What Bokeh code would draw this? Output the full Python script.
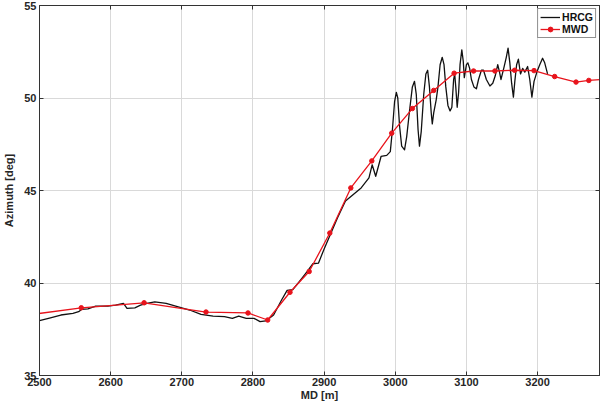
from bokeh.plotting import figure
from bokeh.models import Range1d, LinearAxis, FixedTicker, Legend, LegendItem, CustomJSTickFormatter
from bokeh.embed import file_html
from bokeh.resources import INLINE

# HRCG (black) trace
hrcg_md = [2500, 2514, 2530, 2547, 2555, 2559, 2568, 2579, 2596, 2607, 2618, 2623, 2634, 2642,
           2651, 2662, 2678, 2695, 2711, 2727, 2744, 2760, 2771, 2780, 2790.5, 2801.5, 2810, 2818,
           2829, 2840, 2848, 2856, 2864.5, 2875.5, 2884, 2892, 2900, 2908, 2919, 2930, 2941, 2952,
           2963, 2967.5, 2972.5, 2980,
           2988, 2993, 2996, 2999, 3001.5, 3003.5, 3006, 3009, 3013, 3016, 3020, 3024, 3027, 3029.5,
           3032, 3034, 3036.5, 3040, 3043, 3045.5, 3048, 3050.5, 3052, 3054, 3057.5, 3060, 3063, 3066,
           3068.5, 3071, 3074, 3077, 3079.5, 3082, 3083.5, 3085, 3087, 3089, 3091, 3093.5, 3095.5, 3097,
           3100, 3102, 3104.5, 3107, 3110.5, 3114, 3117, 3121, 3124, 3128, 3133, 3137, 3140.5, 3144,
           3146.5, 3148.5, 3150.5, 3153, 3156, 3158.5, 3161, 3163.5, 3166, 3168, 3170.5, 3173, 3176,
           3179, 3182, 3186, 3189, 3192, 3195, 3199, 3203, 3207, 3210, 3214]
hrcg_az = [37.96, 38.1, 38.27, 38.36, 38.45, 38.57, 38.6, 38.75, 38.75, 38.8, 38.9, 38.63, 38.66, 38.8,
           38.9, 38.98, 38.9, 38.71, 38.54, 38.3, 38.21, 38.18, 38.09, 38.21, 38.09, 38.09, 37.91, 37.95,
           38.27, 39.07, 39.6, 39.64, 40.05, 40.59, 41.04, 41.07, 41.84, 42.55, 43.54, 44.43, 44.79, 45.14,
           45.68, 46.39, 45.77, 46.84,
           46.9, 47.1, 48.3, 49.8, 50.3, 50.0, 48.5, 47.4, 47.2, 47.9, 49.3, 50.6, 50.9, 50.2,
           48.3, 47.4, 48.2, 50.2, 51.3, 51.5, 50.6, 49.2, 48.6, 49.2, 49.9, 50.6, 51.8, 52.2,
           51.8, 50.6, 49.6, 49.3, 49.5, 51.0, 51.3, 50.6, 49.5, 50.3, 51.8, 52.6, 52.0, 51.1,
           51.8, 51.9, 51.6, 51.0, 50.6, 50.5, 51.0, 51.5, 51.5, 51.0, 50.65, 50.8, 51.2, 51.8,
           51.4, 51.0, 51.3, 51.7, 52.2, 52.7, 51.9, 50.8, 50.05, 50.9, 51.8, 52.1, 51.3,
           51.6, 51.4, 51.7, 51.0, 50.05, 50.9, 51.4, 51.8, 52.15, 51.9, 51.3]

# MWD (red) survey stations
mwd_md = [2470, 2558.7, 2647, 2734, 2793, 2820.7, 2852, 2879, 2908, 2937.5, 2967, 2995, 3024, 3054,
          3082.7, 3110, 3140, 3167.7, 3195, 3224, 3254, 3272, 3291]
mwd_az = [38.2, 38.66, 38.93, 38.43, 38.38, 38.0, 39.5, 40.62, 42.7, 45.14, 46.6, 48.1, 49.43, 50.41,
          51.34, 51.46, 51.46, 51.5, 51.48, 51.16, 50.86, 50.95, 51.0]

x_ticks = [2500, 2600, 2700, 2800, 2900, 3000, 3100, 3200]
y_ticks = [35, 40, 45, 50, 55]

FONT = "Liberation Sans"
TXT = "#262626"

p = figure(width=600, height=403, output_backend="svg", toolbar_location=None,
           x_range=Range1d(2500, 3287), y_range=Range1d(35, 55),
           min_border_left=37, min_border_right=1, min_border_top=5, min_border_bottom=25)
p.background_fill_color = "white"
p.border_fill_color = "white"
p.outline_line_color = "#333333"
p.outline_line_width = 1

l1 = p.line(hrcg_md, hrcg_az, line_color="#111111", line_width=1.3, line_join="round")
l2 = p.line(mwd_md, mwd_az, line_color="#e8141c", line_width=1.3)
c2 = p.scatter(mwd_md, mwd_az, marker="circle", size=4.5, fill_color="#e8141c", line_color="#e8141c")

for ax in (p.xaxis[0], p.yaxis[0]):
    ax.major_tick_in = 4
    ax.major_tick_out = 0
    ax.minor_tick_in = 0
    ax.minor_tick_out = 0
    ax.axis_line_color = "#333333"
    ax.major_tick_line_color = "#333333"
    ax.major_label_text_font = FONT
    ax.major_label_text_font_style = "bold"
    ax.major_label_text_font_size = "11px"
    ax.major_label_text_color = TXT
    ax.axis_label_text_font = FONT
    ax.axis_label_text_font_style = "bold"
    ax.axis_label_text_font_size = "11px"
    ax.axis_label_text_color = TXT

p.xaxis.ticker = FixedTicker(ticks=x_ticks)
p.yaxis.ticker = FixedTicker(ticks=y_ticks)
p.xaxis.axis_label = "MD [m]"
p.yaxis.axis_label = "Azimuth [deg]"
p.xaxis.major_label_standoff = 2
p.xaxis.axis_label_standoff = 0
p.yaxis.major_label_standoff = 3
p.yaxis.axis_label_standoff = 6

# mirrored tick-only axes on top and right
for loc, tk in (("right", y_ticks), ("above", x_ticks)):
    ax = LinearAxis(ticker=FixedTicker(ticks=tk), formatter=CustomJSTickFormatter(code="return ''"),
                    major_tick_in=4, major_tick_out=0, minor_tick_in=0, minor_tick_out=0,
                    major_label_standoff=0, axis_line_color="#333333",
                    major_tick_line_color="#333333")
    p.add_layout(ax, loc)

p.xgrid.ticker = FixedTicker(ticks=x_ticks)
p.ygrid.ticker = FixedTicker(ticks=y_ticks)
p.grid.grid_line_color = "#d9d9d9"
p.grid.grid_line_width = 1

legend = Legend(items=[LegendItem(label="HRCG", renderers=[l1]),
                       LegendItem(label="MWD", renderers=[l2, c2])],
                location="top_right")
legend.label_text_font = FONT
legend.label_text_font_style = "bold"
legend.label_text_font_size = "10.5px"
legend.label_text_color = "#111111"
legend.border_line_color = "#222222"
legend.border_line_width = 1
legend.margin = 3
legend.padding = 2
legend.spacing = 0
legend.glyph_width = 20
legend.glyph_height = 12
legend.label_height = 12
legend.label_standoff = 2
legend.background_fill_alpha = 1
p.add_layout(legend)

open("out.html", "w").write(file_html(p, INLINE))
